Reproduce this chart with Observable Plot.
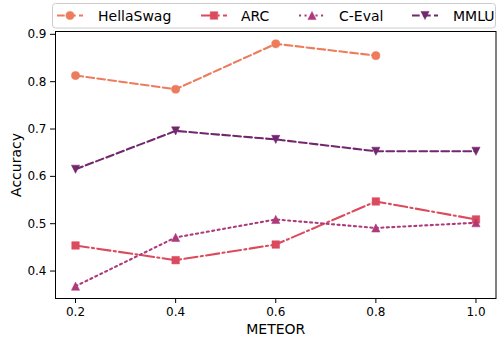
<!DOCTYPE html>
<html>
<head>
<meta charset="utf-8">
<script src="https://cdn.jsdelivr.net/npm/d3@7"></script>
<script src="https://cdn.jsdelivr.net/npm/@observablehq/plot@0.6"></script>
<style>
  html, body { margin: 0; padding: 0; background: #fff; }
  #wrap { position: relative; width: 497px; height: 340px; font-family: "DejaVu Sans", sans-serif; }
  #legend { position: absolute; left: 0; top: 0; }
</style>
</head>
<body>
<div id="wrap"></div>
<script>
// ---- data ----
const meteor = [0.2, 0.4, 0.6, 0.8, 1.0];
const seriesNames = ["HellaSwag", "ARC", "C-Eval", "MMLU"];
const hellaSwag = [0.813, 0.784, 0.880, 0.855, null];
const arc = [0.454, 0.423, 0.456, 0.547, 0.509];
const cEval = [0.368, 0.471, 0.509, 0.491, 0.502];
const mmlu = [0.615, 0.696, 0.678, 0.653, 0.653];
const yTicks = [0.4, 0.5, 0.6, 0.7, 0.8, 0.9];
const xTicks = [0.2, 0.4, 0.6, 0.8, 1.0];

// ---- styles ----
const colors = ["#ec7c5c", "#dc4a5d", "#ad3a7b", "#73276f"];
const dashes = ["7.7,3.3", "13.3,3.3,2.1,3.3", "2.1,3.4", "7.7,3.3"];
const symbolKinds = ["circle", "square", "triUp", "triDown"];

function makeSymbol(kind) {
  return {
    draw(ctx, size) {
      const r = Math.sqrt(size / Math.PI);
      if (kind === "circle") {
        ctx.moveTo(r, 0); ctx.arc(0, 0, r, 0, 2 * Math.PI);
      } else if (kind === "square") {
        const h = r * 0.92;
        ctx.moveTo(-h, -h); ctx.lineTo(h, -h); ctx.lineTo(h, h); ctx.lineTo(-h, h); ctx.closePath();
      } else if (kind === "triUp") {
        ctx.moveTo(0, -r); ctx.lineTo(r, r); ctx.lineTo(-r, r); ctx.closePath();
      } else {
        ctx.moveTo(0, r); ctx.lineTo(r, -r); ctx.lineTo(-r, -r); ctx.closePath();
      }
    }
  };
}

const allValues = [hellaSwag, arc, cEval, mmlu];
const tables = allValues.map((vals, i) =>
  meteor.map((m, j) => ({ x: m, y: vals[j], series: seriesNames[i] })).filter(d => d.y != null)
);

const marks = [];
tables.forEach((t, i) => {
  marks.push(Plot.line(t, { x: "x", y: "y", stroke: colors[i], strokeWidth: 2.08, strokeDasharray: dashes[i] }));
});
tables.forEach((t, i) => {
  marks.push(Plot.dot(t, { x: "x", y: "y", r: 4.1, fill: colors[i], stroke: colors[i], strokeWidth: 0.5, symbol: makeSymbol(symbolKinds[i]) }));
});

const chart = Plot.plot({
  width: 497,
  height: 340,
  marginLeft: 55,
  marginRight: 1.5,
  marginTop: 31,
  marginBottom: 42,
  style: { fontFamily: "DejaVu Sans, sans-serif", color: "#000", background: "#fff" },
  x: { domain: [0.16, 1.04] },
  y: { domain: [0.342, 0.906] },
  marks: [
    ...marks,
    Plot.frame({ stroke: "#000", strokeWidth: 1 }),
    Plot.axisX({ ticks: xTicks, tickFormat: d3.format(".1f"), tickSize: 5, tickPadding: 4, fontSize: 12, label: null }),
    Plot.axisY({ ticks: yTicks, tickFormat: d3.format(".1f"), tickSize: 5, tickPadding: 4, fontSize: 12, label: null }),
    Plot.text(["METEOR"], { frameAnchor: "bottom", lineAnchor: "middle", textAnchor: "middle", dy: 31, fontSize: 14, fill: "#000" }),
    Plot.text(["Accuracy"], { frameAnchor: "left", lineAnchor: "middle", textAnchor: "middle", dx: -39, rotate: -90, fontSize: 14, fill: "#000" })
  ]
});

const wrap = document.getElementById("wrap");
wrap.appendChild(chart);

// ---- legend ----
const legendItems = [
  { handle: 57, text: 98 },
  { handle: 201, text: 241 },
  { handle: 299, text: 339 },
  { handle: 412, text: 453 }
];
const lg = d3.create("svg").attr("id", "legend").attr("width", 497).attr("height", 34)
  .style("font-family", "DejaVu Sans, sans-serif");
lg.append("rect").attr("x", 52.5).attr("y", 3.5).attr("width", 443).attr("height", 24.5)
  .attr("rx", 3).attr("fill", "#fff").attr("fill-opacity", 0.8).attr("stroke", "#ccc").attr("stroke-width", 1);
seriesNames.forEach((name, i) => {
  const p = legendItems[i];
  const cy = 15.5;
  lg.append("line").attr("x1", p.handle).attr("x2", p.handle + 26).attr("y1", cy).attr("y2", cy)
    .attr("stroke", colors[i]).attr("stroke-width", 2.08).attr("stroke-dasharray", dashes[i]);
  const path = d3.path();
  makeSymbol(symbolKinds[i]).draw(path, Math.PI * 4.1 * 4.1);
  lg.append("path").attr("d", path.toString()).attr("transform", `translate(${p.handle + 13},${cy})`)
    .attr("fill", colors[i]).attr("stroke", colors[i]).attr("stroke-width", 0.5);
  lg.append("text").attr("x", p.text).attr("y", cy).attr("dy", "0.36em").attr("font-size", 14)
    .attr("fill", "#000").text(name);
});
wrap.appendChild(lg.node());
</script>
</body>
</html>
